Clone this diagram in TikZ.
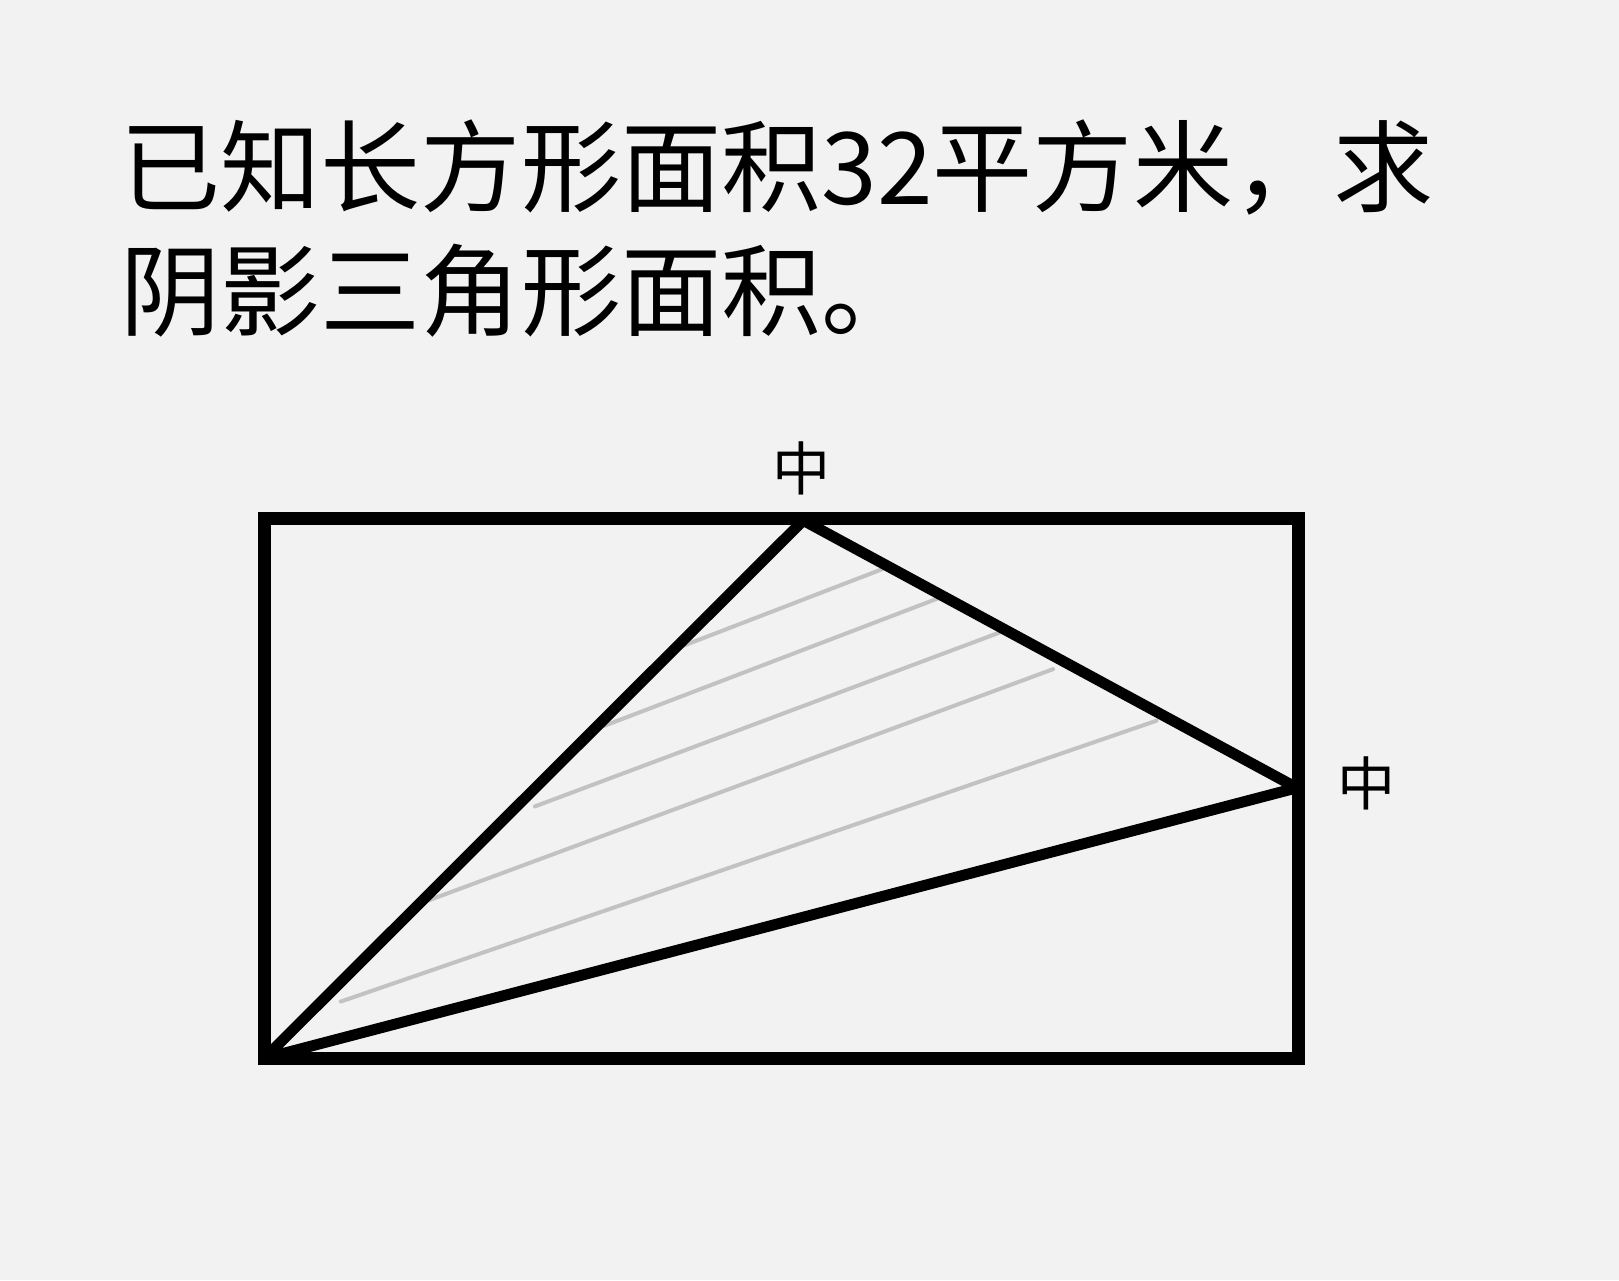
\documentclass[tikz,border=0pt]{standalone}
\usepackage{fontspec}
\usepackage{tikz}
\usetikzlibrary{positioning}
\newfontfamily\cjk{Noto Sans CJK SC}
\definecolor{paper}{HTML}{F2F2F2}
\tikzset{every node/.style={align=center}}

\begin{document}
\begin{tikzpicture}[
    frame/.style={line width=3.6pt, line join=miter},
    edge/.style={line width=3.0pt, line join=round, line cap=round},
    hatch/.style={line width=1.1pt, black!24, line cap=round},
    titletxt/.style={font=\cjk\fontsize{27.6}{34}\selectfont, anchor=base west, inner sep=0pt},
    midlbl/.style={font=\cjk\fontsize{16}{16}\selectfont, inner sep=0pt}
]
  % Background
  \fill[paper] (0,0) rectangle (15.68,-12.40);
  \useasboundingbox (0,0) rectangle (15.68,-12.40);
  % Question
  \node[titletxt] (line1) at (1.16,-1.98) {已知长方形面积32平方米，求};
  \node[titletxt] (line2) at (1.16,-3.18) {阴影三角形面积。};
  % Corners and midpoints
  \coordinate (A) at (2.56,-10.25);
  \coordinate (B) at (12.58,-10.25);
  \coordinate (C) at (12.58,-5.02);
  \coordinate (D) at (2.56,-5.02);
  \coordinate (M) at (7.78,-5.04);
  \coordinate (N) at (12.56,-7.63);
  % Shading strokes
  \draw[hatch] (6.55,-6.28) -- (8.55,-5.51);
  \draw[hatch] (5.85,-7.03) -- (9.15,-5.77);
  \draw[hatch] (5.18,-7.81) -- (9.75,-6.10);
  \draw[hatch] (4.15,-8.72) -- (10.20,-6.48);
  \draw[hatch] (3.30,-9.70) -- (11.20,-6.98);
  % Rectangle and triangle
  \draw[edge] (A) -- (M) -- (N) -- cycle;
  \draw[frame] (A) -- (B) -- (C) -- (D) -- cycle;
  % Labels
  \node[midlbl] (topmid) at (7.76,-4.54) {中};
  \node[midlbl] (rightmid) at (13.23,-7.59) {中};
\end{tikzpicture}
\end{document}
